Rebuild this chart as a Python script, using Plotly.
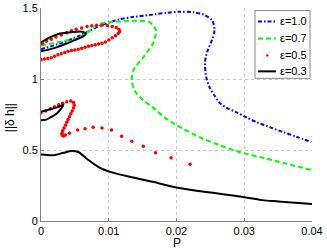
import plotly.graph_objects as go

# eps = 1.0 (blue dash-dot)
x10 = [0.0, 0.0028, 0.0057, 0.0087, 0.0116, 0.0136, 0.016, 0.0185, 0.0205, 0.0225, 0.0242, 0.0253, 0.0256,
       0.0252, 0.0246, 0.0243, 0.0242, 0.0244, 0.0249, 0.0256, 0.0264, 0.0275, 0.0288, 0.0303, 0.0318, 0.0338,
       0.0357, 0.0378, 0.0399]
y10 = [1.21, 1.25, 1.305, 1.375, 1.42, 1.437, 1.45, 1.466, 1.474, 1.47, 1.45, 1.41, 1.34,
       1.27, 1.2, 1.15, 1.1, 1.01, 0.94, 0.884, 0.83, 0.795, 0.767, 0.73, 0.697, 0.66,
       0.627, 0.592, 0.556]

# eps = 0.7 (green dashed)
x07 = [0.0, 0.0028, 0.0057, 0.0087, 0.0116, 0.0136, 0.016, 0.017, 0.0168, 0.0165, 0.0151, 0.0136, 0.0134,
       0.0138, 0.0151, 0.0165, 0.0185, 0.02, 0.0239, 0.0264, 0.0293, 0.0332, 0.04]
y07 = [1.235, 1.262, 1.293, 1.387, 1.405, 1.41, 1.40, 1.34, 1.29, 1.247, 1.153, 1.06, 0.99,
       0.92, 0.85, 0.80, 0.72, 0.674, 0.58, 0.533, 0.486, 0.44, 0.358]

# eps = 0.5 (red dots)
x05 = [0.0, 0.0005, 0.001, 0.0015, 0.002, 0.0025, 0.003, 0.0035, 0.004, 0.0045, 0.005, 0.0055, 0.006,
       0.0065, 0.007, 0.0075, 0.008, 0.0085, 0.009, 0.0095, 0.01, 0.0105, 0.011, 0.0114, 0.0116, 0.0115,
       0.0111, 0.0105, 0.0098, 0.009, 0.0082, 0.0075, 0.0068, 0.006, 0.0052, 0.0045, 0.0038, 0.003,
       0.0022, 0.0015, 0.0008, 0.0002,
       0.0, 0.0007, 0.0014, 0.002, 0.0026, 0.0032, 0.0038, 0.0044, 0.0048, 0.0049, 0.0048, 0.0046,
       0.0044, 0.0042, 0.004, 0.0038, 0.0036, 0.0034, 0.0032, 0.0031, 0.0031, 0.0033, 0.0036, 0.0042,
       0.0054, 0.0065, 0.0077, 0.009, 0.0104, 0.0119, 0.0134, 0.0151, 0.0169, 0.0192, 0.022]
y05 = [1.135, 1.14, 1.145, 1.15, 1.16, 1.17, 1.177, 1.187, 1.195, 1.2, 1.205, 1.21, 1.217,
       1.223, 1.23, 1.236, 1.242, 1.247, 1.252, 1.26, 1.275, 1.29, 1.305, 1.32, 1.335, 1.35,
       1.362, 1.37, 1.377, 1.379, 1.378, 1.375, 1.37, 1.36, 1.35, 1.34, 1.325, 1.31,
       1.295, 1.28, 1.265, 1.25,
       0.763, 0.775, 0.79, 0.805, 0.818, 0.83, 0.84, 0.845, 0.835, 0.815, 0.795, 0.775,
       0.755, 0.735, 0.715, 0.695, 0.675, 0.655, 0.635, 0.618, 0.605, 0.598, 0.605, 0.618,
       0.64, 0.65, 0.66, 0.655, 0.64, 0.596, 0.561, 0.526, 0.48, 0.445, 0.40]

# eps = 0.3 (black solid), three branches separated by None
x03 = [0.0, 0.0014, 0.0028, 0.0045, 0.0062, 0.0066, 0.0062, 0.0048, 0.0035, 0.0023, 0.001, 0.0, None,
       0.0, 0.0012, 0.0024, 0.0033, 0.0031, 0.0023, 0.0014, 0.0008, 0.0, None,
       0.0, 0.0018, 0.0033, 0.0045, 0.0055, 0.0067, 0.0087, 0.0102, 0.0131, 0.0165, 0.02, 0.025,
       0.03, 0.0327, 0.035, 0.04]
y03 = [1.258, 1.295, 1.32, 1.33, 1.332, 1.315, 1.3, 1.27, 1.245, 1.223, 1.205, 1.195, None,
       0.77, 0.785, 0.8, 0.818, 0.8, 0.756, 0.73, 0.714, 0.709, None,
       0.468, 0.463, 0.48, 0.493, 0.486, 0.44, 0.374, 0.346, 0.311, 0.276, 0.236, 0.2,
       0.168, 0.147, 0.138, 0.12]

xticks = [0, 0.01, 0.02, 0.03, 0.04]
xticklabels = ["0", "0.01", "0.02", "0.03", "0.04"]
yticks = [0, 0.5, 1, 1.5]
yticklabels = ["0", "0.5", "1", "1.5"]
legend_labels = ["ε=1.0", "ε=0.7", "ε=0.5", "ε=0.3"]

W, H = 327, 252
L, R, T, B = 41, 15, 7.5, 31
PW, PH = W - L - R, H - T - B


def px(xp):
    return (xp - L) / PW


def py(yp):
    return (H - B - yp) / PH


BLUE_DASH = "4px,2px,1.5px,2px"
GREEN_DASH = "5px,3px"

fig = go.Figure()
fig.add_trace(go.Scatter(x=x10, y=y10, mode="lines", name=legend_labels[0],
                         line=dict(color="#0000ff", width=2, dash=BLUE_DASH, shape="spline", smoothing=0.8)))
fig.add_trace(go.Scatter(x=x07, y=y07, mode="lines", name=legend_labels[1],
                         line=dict(color="#00ff00", width=2, dash=GREEN_DASH, shape="spline", smoothing=0.8)))
fig.add_trace(go.Scatter(x=x05, y=y05, mode="markers", name=legend_labels[2],
                         marker=dict(color="#ff0000", size=3.5)))
fig.add_trace(go.Scatter(x=x03, y=y03, mode="lines", name=legend_labels[3],
                         line=dict(color="#000000", width=2, shape="spline", smoothing=0.8),
                         connectgaps=False))

font = "Liberation Sans, Arial, sans-serif"

# custom compact legend (MATLAB style)
shapes = [dict(type="rect", xref="paper", yref="paper", x0=px(255), x1=px(310), y0=py(78), y1=py(10),
               line=dict(color="#888888", width=1), fillcolor="white", layer="above")]
rows = [21, 38, 55, 71]
styles = [("#0000ff", BLUE_DASH), ("#00ff00", GREEN_DASH), None, ("#000000", "solid")]
annotations = []
for i, yp in enumerate(rows):
    st = styles[i]
    if st is None:
        shapes.append(dict(type="circle", xref="paper", yref="paper",
                           x0=px(266), x1=px(268.5), y0=py(yp + 1.2), y1=py(yp - 1.2),
                           fillcolor="#ff0000", line=dict(color="#ff0000", width=0), layer="above"))
    else:
        shapes.append(dict(type="line", xref="paper", yref="paper", x0=px(258), x1=px(276),
                           y0=py(yp), y1=py(yp), line=dict(color=st[0], width=2, dash=st[1]),
                           layer="above"))
    annotations.append(dict(text=legend_labels[i], xref="paper", yref="paper", x=px(278), y=py(yp),
                            xanchor="left", yanchor="middle", showarrow=False,
                            font=dict(size=11, family=font, color="#000000")))

annotations.append(dict(text="P", xref="paper", yref="paper", x=px(177), y=py(243),
                        xanchor="center", yanchor="middle", showarrow=False,
                        font=dict(size=12, family=font)))
annotations.append(dict(text="||δ h||", xref="paper", yref="paper", x=px(10), y=py(118),
                        xanchor="center", yanchor="middle", showarrow=False, textangle=-90,
                        font=dict(size=12, family=font)))

fig.update_layout(
    width=W, height=H,
    margin=dict(l=L, r=R, t=T, b=B, autoexpand=False),
    paper_bgcolor="white", plot_bgcolor="white",
    font=dict(family=font, size=11, color="#000000"),
    showlegend=False,
    shapes=shapes,
    annotations=annotations,
    xaxis=dict(range=[0, 0.04], tickvals=xticks, ticktext=xticklabels, automargin=False,
               showgrid=True, gridcolor="#c8c8c8", griddash="dot", gridwidth=1,
               showline=True, linecolor="#808080", linewidth=1,
               ticks="inside", ticklen=3, tickcolor="#808080",
               zeroline=False, tickfont=dict(size=11)),
    yaxis=dict(range=[0, 1.5], tickvals=yticks, ticktext=yticklabels, automargin=False,
               showgrid=True, gridcolor="#c8c8c8", griddash="dot", gridwidth=1,
               showline=True, linecolor="#808080", linewidth=1,
               ticks="inside", ticklen=3, tickcolor="#808080",
               zeroline=False, tickfont=dict(size=11)),
)
fig.write_html("out.html", config={"displayModeBar": False},
               post_script="document.body.style.margin='0';document.body.style.padding='0';")
